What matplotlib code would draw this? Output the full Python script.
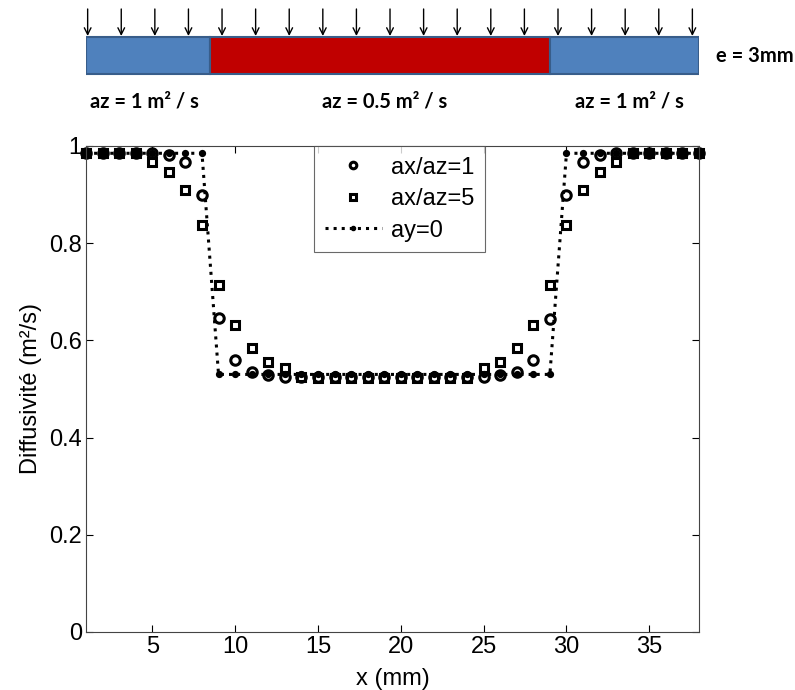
import numpy as np
import matplotlib
matplotlib.use("Agg")
import matplotlib.pyplot as plt
from matplotlib.patches import Rectangle

# -----------------------------
# DATA
# -----------------------------
x_mm = np.arange(1, 39)

ratio1 = [0.985, 0.985, 0.985, 0.985, 0.985, 0.981, 0.967, 0.899, 0.646, 0.560,
          0.535, 0.528, 0.525, 0.525, 0.525, 0.525, 0.525, 0.525, 0.525, 0.525,
          0.525, 0.525, 0.525, 0.525, 0.525, 0.528, 0.535, 0.560, 0.645, 0.899,
          0.967, 0.981, 0.985, 0.985, 0.985, 0.985, 0.985, 0.985]

ratio5 = [0.985, 0.985, 0.985, 0.985, 0.967, 0.947, 0.909, 0.837, 0.714, 0.632,
          0.584, 0.555, 0.543, 0.525, 0.522, 0.522, 0.522, 0.522, 0.522, 0.522,
          0.522, 0.522, 0.522, 0.522, 0.543, 0.555, 0.584, 0.632, 0.714, 0.837,
          0.909, 0.947, 0.967, 0.985, 0.985, 0.985, 0.985, 0.985]

ay0 = [0.985] * 8 + [0.530] * 21 + [0.985] * 9

labels = ["ax/az=1", "ax/az=5", "ay=0"]

# schematic of the plate
zone_bounds = [1.0, 8.5, 29.0, 38.0]
zone_colors = ["#4F81BD", "#C00000", "#4F81BD"]
zone_labels = ["az = 1 m² / s", "az = 0.5 m² / s", "az = 1 m² / s"]
zone_label_x = [4.5, 19.0, 33.8]
arrow_x = np.linspace(1.1, 37.6, 19)
thickness_label = "e = 3mm"

# -----------------------------
# FIGURE
# -----------------------------
plt.rcParams["font.family"] = ["Liberation Sans", "DejaVu Sans"]

W, H = 795, 690
fig = plt.figure(figsize=(W / 100, H / 100), dpi=100)

ax_l, ax_r, ax_t, ax_b = 86, 699, 146, 632
ax = fig.add_axes([ax_l / W, 1 - ax_b / H, (ax_r - ax_l) / W, (ax_b - ax_t) / H])

ax.plot(x_mm, ratio1, linestyle="none", marker="o", ms=6.8, mfc="none",
        mec="black", mew=2.2, clip_on=False, label=labels[0])
ax.plot(x_mm, ratio5, linestyle="none", marker="s", ms=5.6, mfc="none",
        mec="black", mew=2.2, clip_on=False, label=labels[1])
ax.plot(x_mm, ay0, linestyle=":", color="black", lw=2.2, marker="o", ms=4.2,
        clip_on=False, label=labels[2])

ax.set_xlim(1, 38)
ax.set_ylim(0, 1)
ax.set_xticks([5, 10, 15, 20, 25, 30, 35])
ax.set_yticks([0, 0.2, 0.4, 0.6, 0.8, 1.0])
ax.set_yticklabels(["0", "0.2", "0.4", "0.6", "0.8", "1"])
ax.tick_params(direction="in", top=True, right=True, labelsize=17, length=5,
               width=0.8, pad=3)
for s in ax.spines.values():
    s.set_linewidth(0.8)
    s.set_color("#444444")
ax.set_xlabel("x (mm)", fontsize=17, labelpad=7)
ax.set_ylabel("Diffusivité (m²/s)", fontsize=17, labelpad=5)

leg = ax.legend(loc="upper center", bbox_to_anchor=(0.512, 1.0), borderaxespad=0,
                fancybox=False, edgecolor="#444444", fontsize=17, markerscale=0.7,
                handlelength=2.4, handletextpad=0.4, borderpad=0.45, labelspacing=0.4)
leg.get_frame().set_linewidth(0.8)

# -----------------------------
# SCHEMATIC ABOVE THE PLOT
# -----------------------------
sk = fig.add_axes([ax_l / W, 1 - 120 / H, (ax_r - ax_l) / W, 120 / H])
sk.set_xlim(1, 38)
sk.set_ylim(120, 0)
sk.axis("off")

for i in range(3):
    sk.add_patch(Rectangle((zone_bounds[i], 37), zone_bounds[i + 1] - zone_bounds[i], 37,
                           facecolor=zone_colors[i], edgecolor="#385D8A", lw=1.5))

for xa in arrow_x:
    sk.annotate("", xy=(xa, 36), xytext=(xa, 9),
                arrowprops=dict(arrowstyle="->", color="black", lw=1.0,
                                shrinkA=0, shrinkB=0, mutation_scale=12))

for xl, txt in zip(zone_label_x, zone_labels):
    sk.text(xl, 101, txt, ha="center", va="center", fontsize=14.5,
            fontweight="bold", family=["Lato", "DejaVu Sans"])
sk.text(39.0, 56, thickness_label, ha="left", va="center", fontsize=14.5,
        fontweight="bold", family=["Lato", "DejaVu Sans"], clip_on=False)

fig.savefig("out.png", dpi=100)
